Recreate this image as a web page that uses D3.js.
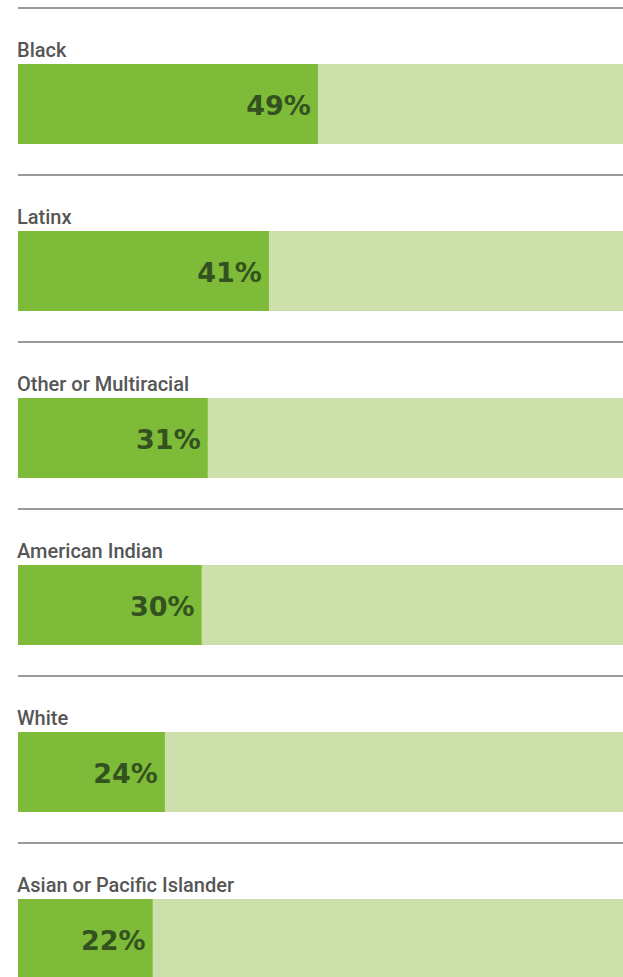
<!DOCTYPE html>
<html>
<head>
<meta charset="utf-8">
<script src="https://cdn.jsdelivr.net/npm/d3@7"></script>
<style>
  body { margin: 0; background: #fff; }
  .label { font-family: "Roboto", "Liberation Sans", sans-serif; font-weight: 500; font-size: 20px; fill: #565656; }
  .pct { font-family: "DejaVu Sans", sans-serif; font-weight: bold; font-size: 27px; fill: #33521f; }
</style>
</head>
<body>
<div id="chart"></div>
<script>
var groups = ["Black", "Latinx", "Other or Multiracial", "American Indian", "White", "Asian or Pacific Islander"];
var shares = [49, 41, 31, 30, 24, 22];

var config = {
    width      : 623,
    height     : 977,
    left       : 18,
    rowStep    : 167,
    ruleTop    : 8,
    labelGap   : 49,
    barGap     : 56,
    barHeight  : 80,
    dark       : "#7dbb38",
    light      : "#cddfaa",
    rule       : "#9a9a9a"
};

var svg = d3.select("#chart").append("svg")
    .attr("width", config.width)
    .attr("height", config.height);

// percent scale; the full track reaches past the right edge
var x = d3.scaleLinear()
    .domain([0, 100])
    .range([config.left, config.left + 612]);

var y = d3.scaleBand()
    .domain(groups)
    .range([config.ruleTop, config.ruleTop + config.rowStep * groups.length])
    .padding(0);

var rows = svg.selectAll("g.row")
    .data(groups.map(function(g, i) { return { name: g, value: shares[i] }; }))
    .enter().append("g")
    .attr("class", "row")
    .attr("transform", function(d) { return "translate(0," + y(d.name) + ")"; });

rows.append("line")
    .attr("x1", config.left)
    .attr("x2", config.width)
    .attr("y1", 0)
    .attr("y2", 0)
    .attr("stroke", config.rule)
    .attr("stroke-width", 2);

rows.append("text")
    .attr("class", "label")
    .attr("x", config.left - 1)
    .attr("y", config.labelGap)
    .text(function(d) { return d.name; });

rows.append("rect")
    .attr("x", x(0))
    .attr("y", config.barGap)
    .attr("width", x(100) - x(0))
    .attr("height", config.barHeight)
    .attr("fill", config.light);

rows.append("rect")
    .attr("x", x(0))
    .attr("y", config.barGap)
    .attr("width", function(d) { return x(d.value) - x(0); })
    .attr("height", config.barHeight)
    .attr("fill", config.dark);

rows.append("text")
    .attr("class", "pct")
    .attr("x", function(d) { return x(d.value) - 7; })
    .attr("y", config.barGap + 51)
    .attr("text-anchor", "end")
    .text(function(d) { return d.value + "%"; });
</script>
</body>
</html>
